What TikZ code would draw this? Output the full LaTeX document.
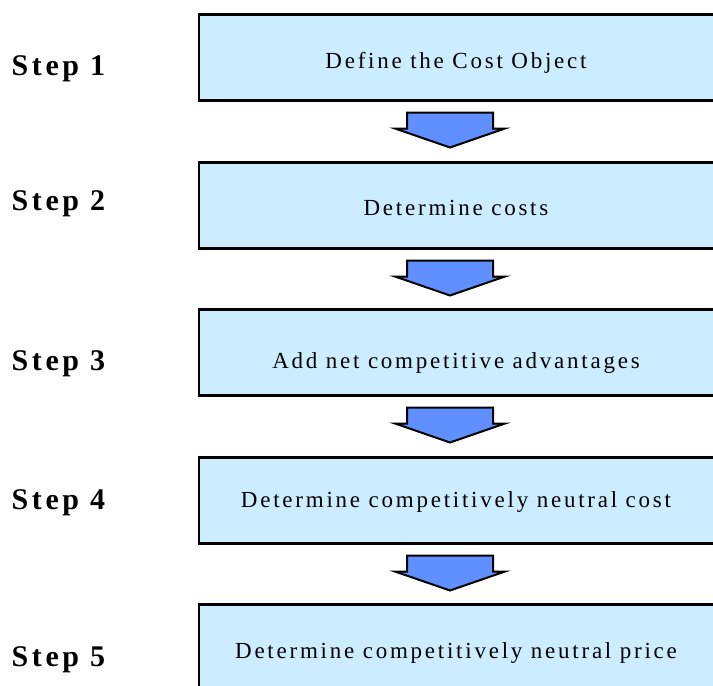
\documentclass[tikz,border=0pt]{standalone}
\usepackage{fontspec}
\setmainfont{Liberation Serif}
\newfontfamily\boxfont[LetterSpace=12]{Liberation Serif}
\newfontfamily\stepfont[LetterSpace=12]{Liberation Serif}
\usetikzlibrary{calc}
\definecolor{boxfill}{RGB}{204,236,255}
\definecolor{arrowfill}{RGB}{96,144,255}
\tikzset{
  stepbox/.style={draw=black, line width=2.6pt, fill=boxfill, rectangle,
    minimum width=516pt, minimum height=86pt, inner sep=0pt, outer sep=0pt,
    anchor=north west},
  boxtext/.style={font=\boxfont\fontsize{23}{27}\selectfont, anchor=base,
    inner sep=0pt, text=black},
  steplabel/.style={font=\stepfont\bfseries\fontsize{30}{34}\selectfont,
    anchor=base west, inner sep=0pt, text=black},
  blockarrow/.style={draw=black, line width=2pt, fill=arrowfill, line join=miter}
}
\begin{document}
\begin{tikzpicture}[x=1pt,y=-1pt]
\useasboundingbox (0,0) rectangle (713,686);
\clip (0,0) rectangle (713,686);
% boxes
\node[stepbox] (b1) at (199,14.5) {};
\node[stepbox] (b2) at (199,162.5) {};
\node[stepbox] (b3) at (199,309.5) {};
\node[stepbox] (b4) at (199,457.5) {};
\node[stepbox] (b5) at (199,604.5) {};
% box texts
\node[boxtext] (t1) at (456,68) {Define the Cost Object};
\node[boxtext] (t2) at (456,215) {Determine costs};
\node[boxtext] (t3) at (456,368) {Add net competitive advantages};
\node[boxtext] (t4) at (456,507) {Determine competitively neutral cost};
\node[boxtext] (t5) at (456,658) {Determine competitively neutral price};
% step labels
\node[steplabel] (s1) at (11.5,75.5) {Step 1};
\node[steplabel] (s2) at (11.5,210.5) {Step 2};
\node[steplabel] (s3) at (11.5,370.5) {Step 3};
\node[steplabel] (s4) at (11.5,509) {Step 4};
\node[steplabel] (s5) at (11.5,666.5) {Step 5};
% block arrows between boxes
\foreach \i in {1,2,3,4} {
  \coordinate (a\i) at ($(b\i.south)+(-7,12)$);
  \draw[blockarrow] (a\i) ++(-43,0) -- ++(86,0) -- ++(0,16) -- ++(12,0)
    -- ++(-55,19) -- ++(-55,-19) -- ++(12,0) -- cycle;
}
\end{tikzpicture}
\end{document}
